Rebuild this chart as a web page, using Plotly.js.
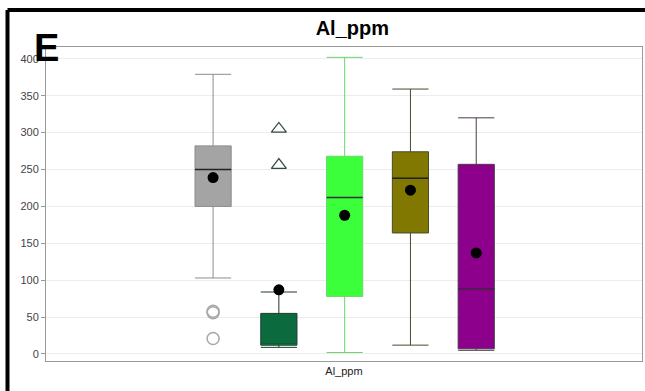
<!DOCTYPE html>
<html>
<head>
<meta charset="utf-8">
<script src="https://cdn.plot.ly/plotly-3.0.1.min.js"></script>
<style>html,body{margin:0;padding:0;background:#fff;}#chart{width:645px;height:391px;}</style>
</head>
<body>
<div id="chart"></div>
<script>
// Box statistics, one entry per group (left to right)
var groups      = ['G1', 'G2', 'G3', 'G4', 'G5'];
var q1Vals      = [200, 12, 78, 164, 7];
var medianVals  = [250, 13, 212, 238, 88];
var q3Vals      = [282, 55, 268, 274, 257];
var lowerVals   = [103, 9, 2, 12, 5];
var upperVals   = [379, 84, 402, 359, 320];
var meanVals    = [239, 87, 188, 222, 137];
var fillColors  = ['#a4a4a4', '#0b6b3e', '#3cff3c', '#807800', '#8c008c'];
var lineColors  = ['#8c8c8c', '#1f3a2a', '#6bd66b', '#4a4a2a', '#4a3a4a'];
var medianColors= ['#222222', '#0b6b3e', '#333333', '#222222', '#4a1a4a'];
// Outliers
var circleOutY   = [58, 56, 21];   // group G1
var triangleOutY = [305, 256];     // group G2

var boxWidth = 0.55;
var traces = [];
groups.forEach(function(g, i) {
  var pos = i + 1;
  traces.push({
    type: 'box', name: g, x: [pos],
    q1: [q1Vals[i]], median: [medianVals[i]], q3: [q3Vals[i]],
    lowerfence: [lowerVals[i]], upperfence: [upperVals[i]],
    width: boxWidth, whiskerwidth: 1, boxpoints: false,
    fillcolor: fillColors[i], line: {color: lineColors[i], width: 1},
    hoverinfo: 'skip', showlegend: false
  });
  traces.push({
    type: 'scatter', mode: 'lines',
    x: [pos - boxWidth / 2, pos + boxWidth / 2], y: [medianVals[i], medianVals[i]],
    line: {color: medianColors[i], width: 1.5}, hoverinfo: 'skip', showlegend: false
  });
});
traces.push({
  type: 'scatter', mode: 'markers',
  x: groups.map(function(g, i) { return i + 1; }), y: meanVals,
  marker: {color: '#000', size: 11, symbol: 'circle'},
  hoverinfo: 'skip', showlegend: false
});
traces.push({
  type: 'scatter', mode: 'markers',
  x: circleOutY.map(function() { return 1; }), y: circleOutY,
  marker: {symbol: 'circle-open', size: 12, color: '#a8a8a8', line: {width: 1.5}},
  hoverinfo: 'skip', showlegend: false
});
traces.push({
  type: 'scatter', mode: 'markers',
  x: triangleOutY.map(function() { return 2; }), y: triangleOutY,
  marker: {symbol: 'triangle-up-open', size: 13, color: '#2e4a3c', line: {width: 1.2}},
  hoverinfo: 'skip', showlegend: false
});

var layout = {
  width: 645, height: 391,
  margin: {l: 46, r: 3, t: 47, b: 30},
  paper_bgcolor: '#fff', plot_bgcolor: '#fff',
  font: {family: 'Liberation Sans, Arial, sans-serif', color: '#444'},
  title: {text: '<b>Al_ppm</b>', x: 0.514, xref: 'paper', xanchor: 'center',
          y: 0.928, yref: 'container', yanchor: 'middle',
          font: {family: 'Liberation Sans Narrow, Liberation Sans, Arial, sans-serif', size: 20, color: '#000'}},
  xaxis: {
    range: [-1.54, 7.52], showticklabels: false, ticks: '', showgrid: false, zeroline: false,
    showline: true, linecolor: '#9a9a9a', linewidth: 1, mirror: true,
    title: {text: 'Al_ppm', font: {size: 11, color: '#222'}, standoff: 6}
  },
  yaxis: {
    range: [-9.5, 416], tickvals: [0, 50, 100, 150, 200, 250, 300, 350, 400],
    ticks: 'outside', ticklen: 4, tickcolor: '#999', tickfont: {size: 11, color: '#444'},
    showgrid: true, gridcolor: '#ececec', zeroline: false,
    showline: true, linecolor: '#9a9a9a', linewidth: 1, mirror: true
  },
  shapes: [
    {type: 'line', xref: 'paper', yref: 'paper', x0: -0.0646, x1: 1.3, y0: 1.118, y1: 1.118,
     line: {color: '#000', width: 4}, layer: 'above'},
    {type: 'line', xref: 'paper', yref: 'paper', x0: -0.0646, x1: -0.0646, y0: -0.4, y1: 1.118,
     line: {color: '#000', width: 4}, layer: 'above'}
  ],
  annotations: [{
    text: '<b>E</b>', xref: 'paper', yref: 'paper', x: -0.024, y: 1.07,
    xanchor: 'left', yanchor: 'top', showarrow: false,
    font: {family: 'Liberation Sans, Arial, sans-serif', size: 38, color: '#000'}
  }]
};

Plotly.newPlot('chart', traces, layout, {staticPlot: true, displayModeBar: false});
</script>
</body>
</html>
